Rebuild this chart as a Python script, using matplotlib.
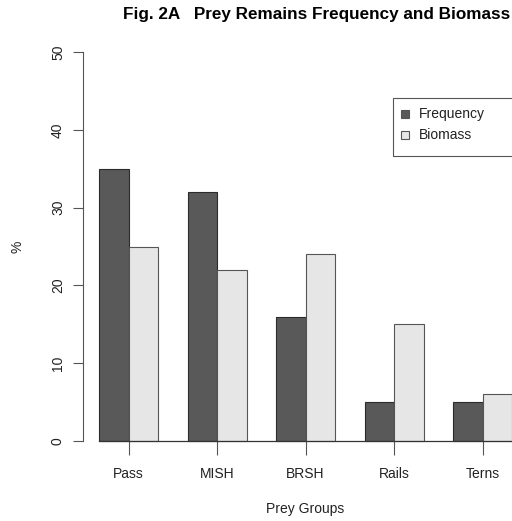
import numpy as np
import matplotlib.pyplot as plt
from matplotlib.patches import Rectangle

plt.rcParams['font.family'] = ['Liberation Sans', 'DejaVu Sans']

# data
groups = ['Pass', 'MISH', 'BRSH', 'Rails', 'Terns']
frequency = [35, 32, 16, 5, 5]
biomass = [25, 22, 24, 15, 6]

W, H = 512, 521
fig = plt.figure(figsize=(W / 100, H / 100), dpi=100)

# axes placed in pixels: left spine at x=83, y=0 at 441px, y=50 at 52px
px_unit = 29.5
left_px, right_px = 83, 540
ax = fig.add_axes([left_px / W, (H - 441) / H, (right_px - left_px) / W, (441 - 52) / H])
ax.set_xlim(1 + (left_px - 99) / px_unit, 1 + (right_px - 99) / px_unit)
ax.set_ylim(0, 50)

# R-style barplot positions: bar width 1, one unit space between groups
idx = np.arange(len(groups))
x_freq = 1 + 3 * idx
x_bio = x_freq + 1
ax.bar(x_freq, frequency, width=1, align='edge', color='#595959',
       edgecolor='#2b2b2b', linewidth=0.8, clip_on=False)
ax.bar(x_bio, biomass, width=1, align='edge', color='#e6e6e6',
       edgecolor='#555555', linewidth=0.8, clip_on=False)

# baseline
ax.plot([x_freq[0], x_bio[-1] + 2], [0, 0], color='#333333', lw=0.9, clip_on=False)

for s in ['top', 'right', 'bottom']:
    ax.spines[s].set_visible(False)
ax.spines['left'].set_color('#555555')
ax.spines['left'].set_bounds(0, 50)

ax.set_yticks([0, 10, 20, 30, 40, 50])
ax.set_yticklabels(['0', '10', '20', '30', '40', '50'], rotation=90, va='center')
ax.tick_params(axis='y', length=7, width=0.8, color='#555555', pad=6,
               labelsize=10, labelcolor='#222222')
ax.set_xticks(x_bio)
ax.set_xticklabels(groups)
ax.tick_params(axis='x', length=10, width=0.8, color='#555555', pad=9,
               labelsize=10, labelcolor='#222222')

fig.text(17 / W, 1 - 247 / H, '%', rotation=90, ha='center', va='center',
         fontsize=10, color='#222222')
fig.text(305 / W, 1 - 509 / H, 'Prey Groups', ha='center', va='center',
         fontsize=10, color='#222222')
fig.text(317 / W, 1 - 14 / H, 'Fig. 2A   Prey Remains Frequency and Biomass',
         ha='center', va='center', fontsize=12.3, fontweight='bold')

# legend box drawn R style
fig.patches.append(Rectangle((393 / W, 1 - 156 / H), 140 / W, 58 / H,
                             transform=fig.transFigure, fill=False,
                             edgecolor='#555555', lw=0.8))
for y, label, col in [(114, 'Frequency', '#595959'), (135, 'Biomass', '#e6e6e6')]:
    fig.patches.append(Rectangle((401 / W, 1 - (y + 4) / H), 8 / W, 8 / H,
                                 transform=fig.transFigure, facecolor=col,
                                 edgecolor='#555555', lw=0.8))
    fig.text(419 / W, 1 - y / H, label, ha='left', va='center',
             fontsize=10, color='#222222')

fig.savefig('out.png', dpi=100)
